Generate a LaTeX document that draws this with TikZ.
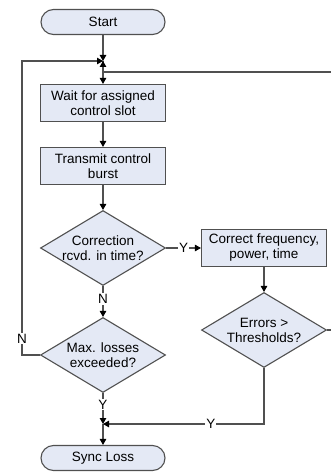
\documentclass[tikz,border=0pt]{standalone}
\usepackage{fontspec}
\setmainfont{Liberation Sans}
\usetikzlibrary{shapes.geometric,shapes.misc,arrows.meta}
\definecolor{boxfill}{RGB}{228,233,245}
\definecolor{edge}{RGB}{80,80,80}
\tikzset{
  base/.style={draw=edge, line width=1.1pt, fill=boxfill, inner sep=0pt},
  terminal/.style={base, rounded rectangle, minimum width=124pt, minimum height=25pt},
  process/.style={base, rectangle, minimum width=125pt, minimum height=37pt},
  decision/.style={base, diamond, minimum width=125pt, minimum height=75pt},
  txt/.style={font=\fontsize{13.5}{15}\selectfont, align=center, inner sep=0pt},
  flow/.style={draw=edge, line width=1.1pt, -{Triangle[length=6pt,width=6.5pt,color=black]}},
  plain/.style={draw=edge, line width=1.1pt},
  lab/.style={font=\fontsize{13.5}{15}\selectfont, fill=white, inner sep=1pt}
}
\begin{document}
\begin{tikzpicture}[x=1pt,y=-1pt]
\useasboundingbox (0,0) rectangle (331,473);

% terminals and steps
\node[terminal] (start) at (103,22) {};
\node[txt] at (start) {Start};
\node[process] (wait) at (103,103) {};
\node[txt] at (wait) {Wait for assigned\\control slot};
\node[process] (tx) at (103,166) {};
\node[txt] at (tx) {Transmit control\\burst};
\node[decision] (rcvd) at (103,248) {};
\node[txt] at (rcvd) {Correction\\rcvd. in time?};
\node[process] (corr) at (264,248) {};
\node[txt] at (corr) {Correct frequency,\\power, time};
\node[decision] (err) at (264,330) {};
\node[txt] at (err) {Errors >\\Thresholds?};
\node[decision] (maxl) at (103,355) {};
\node[txt] at (maxl) {Max. losses\\exceeded?};
\node[terminal] (sync) at (103,458) {};
\node[txt] at (sync) {Sync Loss};

% junctions
\coordinate (j1) at (103,61);
\coordinate (j1b) at (103,72);
\coordinate (j2) at (103,424);
\coordinate (loopL) at (22,61);
\coordinate (loopLb) at (22,355);
\coordinate (rightTop) at (331,72);
\coordinate (errR) at (331,330);
\coordinate (errB) at (264,424);

% main flow
\draw[flow] (start) -- (j1);
\draw[flow] (j1) -- (wait);
\draw[flow] (wait) -- (tx);
\draw[flow] (tx) -- (rcvd);
\draw[flow] (rcvd) -- node[lab, pos=0.5]{Y} (corr);
\draw[flow] (corr) -- (err);
\draw[flow] (rcvd) -- node[lab, pos=0.42]{N} (maxl);
\draw[flow] (maxl) -- node[lab, pos=0.37]{Y} (j2);
\draw[flow] (j2) -- (sync);

% loop back from "Max. losses exceeded?"
\draw[flow] (maxl.west) -- (loopLb) -- node[lab, pos=0.055]{N} (loopL) -- (j1);

% return line along the top
\draw[flow] (rightTop) -- (j1b) -- (j1);

% "Errors > Thresholds?" exits
\draw[plain] (err.east) -- (errR);
\draw[flow] (err.south) -- (errB) -- node[lab, pos=0.33]{Y} (j2);
\end{tikzpicture}
\end{document}
